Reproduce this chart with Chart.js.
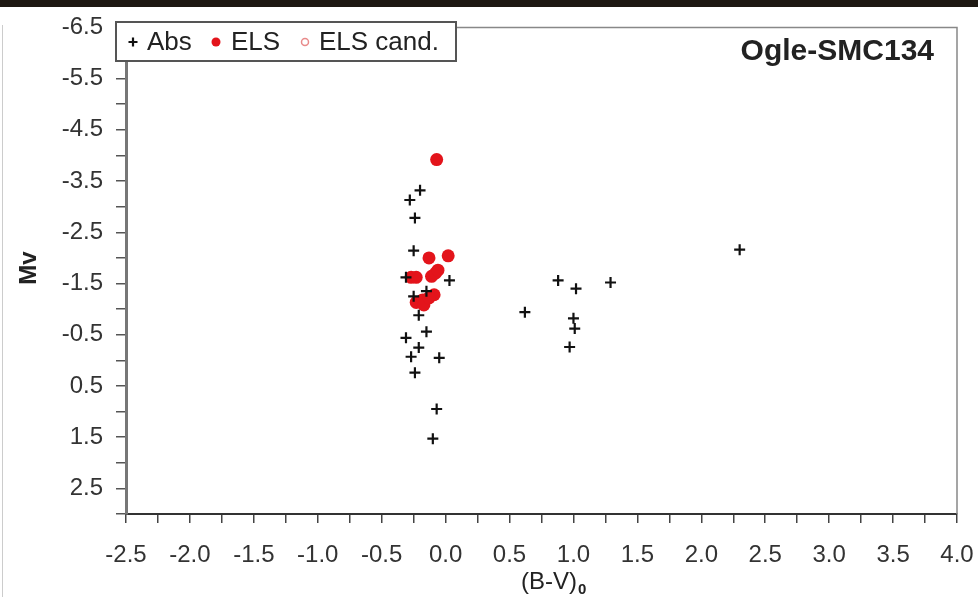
<!DOCTYPE html>
<html>
<head>
<meta charset="utf-8">
<script src="https://cdn.jsdelivr.net/npm/chart.js@4.4.1/dist/chart.umd.min.js"></script>
<style>
  html, body { margin: 0; padding: 0; background: #fff; }
  #wrap { position: relative; width: 978px; height: 597px; }
</style>
</head>
<body>
<div id="wrap"><canvas id="cmd" width="978" height="597"></canvas></div>
<script>
// Colour–magnitude data
const absX = [-0.20, -0.28, -0.24, -0.25, -0.31, 0.03, -0.25, -0.15, -0.21, -0.15, -0.31, -0.21, -0.27, -0.05, -0.24, -0.07, -0.10, 0.62, 0.88, 1.02, 1.29, 1.00, 1.01, 0.97, 2.30];
const absY = [-3.32, -3.13, -2.78, -2.14, -1.62, -1.56, -1.25, -1.35, -0.88, -0.56, -0.44, -0.25, -0.07, -0.05, 0.24, 0.95, 1.53, -0.94, -1.56, -1.40, -1.52, -0.82, -0.62, -0.26, -2.16];

const elsX = [-0.07, -0.13, 0.02, -0.11, -0.08, -0.06, -0.27, -0.23, -0.09, -0.18, -0.23, -0.17, -0.13];
const elsY = [-3.92, -2.00, -2.04, -1.64, -1.70, -1.76, -1.62, -1.62, -1.28, -1.18, -1.13, -1.08, -1.22];

const candX = [];
const candY = [];

const xMin = -2.5, xMax = 4.0;
const yMin = -6.5, yMax = 3.0;

const FONT = '"Liberation Sans", Arial, sans-serif';

function toPoints(xs, ys) {
  return xs.map(function (x, i) { return { x: x, y: ys[i] }; });
}

const datasets = [
  {
    label: 'Abs',
    data: toPoints(absX, absY),
    pointStyle: 'cross',
    pointRadius: 5.5,
    borderColor: '#111',
    backgroundColor: '#111',
    pointBorderWidth: 2.2
  },
  {
    label: 'ELS',
    data: toPoints(elsX, elsY),
    pointStyle: 'circle',
    pointRadius: 6.5,
    borderColor: '#e3141b',
    backgroundColor: '#e3141b',
    pointBorderWidth: 0
  },
  {
    label: 'ELS cand.',
    data: toPoints(candX, candY),
    pointStyle: 'circle',
    pointRadius: 4,
    borderColor: '#e88a8a',
    backgroundColor: '#fff',
    pointBorderWidth: 1.5
  }
];

// frame, legend box, titles
const decorations = {
  id: 'decorations',
  beforeDraw(chart) {
    const ctx = chart.ctx;
    ctx.save();
    ctx.fillStyle = '#fff';
    ctx.fillRect(0, 0, chart.width, chart.height);
    ctx.fillStyle = '#1e1812';
    ctx.fillRect(0, 0, chart.width, 7);
    ctx.strokeStyle = '#ccc';
    ctx.lineWidth = 1;
    ctx.beginPath();
    ctx.moveTo(2.5, 25);
    ctx.lineTo(2.5, chart.height);
    ctx.stroke();
    ctx.restore();
  },
  afterDraw(chart) {
    const ctx = chart.ctx;
    const a = chart.chartArea;
    ctx.save();

    // light box on top and right
    ctx.strokeStyle = '#888';
    ctx.lineWidth = 1.5;
    ctx.beginPath();
    ctx.moveTo(a.left, a.top);
    ctx.lineTo(a.right, a.top);
    ctx.lineTo(a.right, a.bottom);
    ctx.stroke();

    // legend
    ctx.fillStyle = '#fff';
    ctx.fillRect(116, 22, 340, 39);
    ctx.strokeStyle = '#555';
    ctx.lineWidth = 2;
    ctx.strokeRect(116, 22, 340, 39);

    const items = [
      { ds: 0, mx: 133, tx: 147 },
      { ds: 1, mx: 216, tx: 231 },
      { ds: 2, mx: 305, tx: 319 }
    ];
    ctx.font = '26px ' + FONT;
    ctx.textBaseline = 'middle';
    items.forEach(function (it) {
      const ds = chart.data.datasets[it.ds];
      ctx.fillStyle = ds.backgroundColor;
      ctx.strokeStyle = ds.borderColor;
      ctx.lineWidth = ds.pointBorderWidth || 0;
      const r = it.ds === 2 ? 3.5 : 4.5;
      Chart.helpers.drawPoint(ctx, {
        pointStyle: ds.pointStyle,
        radius: r,
        rotation: 0,
        borderWidth: ds.pointBorderWidth
      }, it.mx, 42);
      ctx.fillStyle = '#222';
      ctx.fillText(ds.label, it.tx, 43);
    });

    // panel name
    ctx.font = 'bold 30px ' + FONT;
    ctx.textAlign = 'right';
    ctx.textBaseline = 'alphabetic';
    ctx.fillStyle = '#222';
    ctx.fillText('Ogle-SMC134', 934, 60);

    // y title
    ctx.save();
    ctx.translate(36, 268);
    ctx.rotate(-Math.PI / 2);
    ctx.font = 'bold 24px ' + FONT;
    ctx.textAlign = 'center';
    ctx.fillText('Mv', 0, 0);
    ctx.restore();

    // x title with subscript
    ctx.textAlign = 'left';
    ctx.font = '24px ' + FONT;
    ctx.fillStyle = '#222';
    const main = '(B-V)';
    const w = ctx.measureText(main).width;
    const x0 = 549 - w / 2;
    ctx.fillText(main, x0, 589);
    ctx.font = 'bold 15px ' + FONT;
    ctx.fillText('0', x0 + w + 1, 594);

    ctx.restore();
  }
};

const isLabelled = {
  x: function (v) { return Math.abs(Math.round(v * 2) - v * 2) < 1e-6; },
  y: function (v) { return Math.abs(Math.round(v * 2) % 2) === 1 && Math.abs(Math.round(v * 2) - v * 2) < 1e-6; }
};

new Chart(document.getElementById('cmd'), {
  type: 'scatter',
  data: { datasets: datasets },
  plugins: [decorations],
  options: {
    responsive: false,
    animation: false,
    events: [],
    layout: { padding: { top: 23, right: 21, left: 0, bottom: 0 } },
    plugins: {
      legend: { display: false },
      tooltip: { enabled: false }
    },
    scales: {
      x: {
        type: 'linear',
        position: 'bottom',
        min: xMin,
        max: xMax,
        afterFit: function (scale) {
          scale.height = 83;
          scale.paddingLeft = 0;
          scale.paddingRight = 0;
        },
        border: { display: true, color: '#333', width: 2 },
        grid: { drawOnChartArea: false, drawTicks: true, tickLength: 9, color: '#444', lineWidth: 1.5 },
        ticks: {
          stepSize: 0.25,
          autoSkip: false,
          maxRotation: 0,
          padding: 18,
          color: '#333',
          font: { family: FONT, size: 24 },
          callback: function (v) { return isLabelled.x(v) ? v.toFixed(1) : ''; }
        }
      },
      y: {
        type: 'linear',
        reverse: true,
        min: yMin,
        max: yMax,
        afterFit: function (scale) { scale.width = 126; },
        border: { display: true, color: '#777', width: 3 },
        grid: { drawOnChartArea: false, drawTicks: true, tickLength: 10, color: '#555', lineWidth: 1.5 },
        ticks: {
          stepSize: 0.5,
          autoSkip: false,
          padding: 13,
          color: '#333',
          font: { family: FONT, size: 24 },
          callback: function (v) { return isLabelled.y(v) ? v.toFixed(1) : ''; }
        }
      }
    }
  }
});
</script>
</body>
</html>
